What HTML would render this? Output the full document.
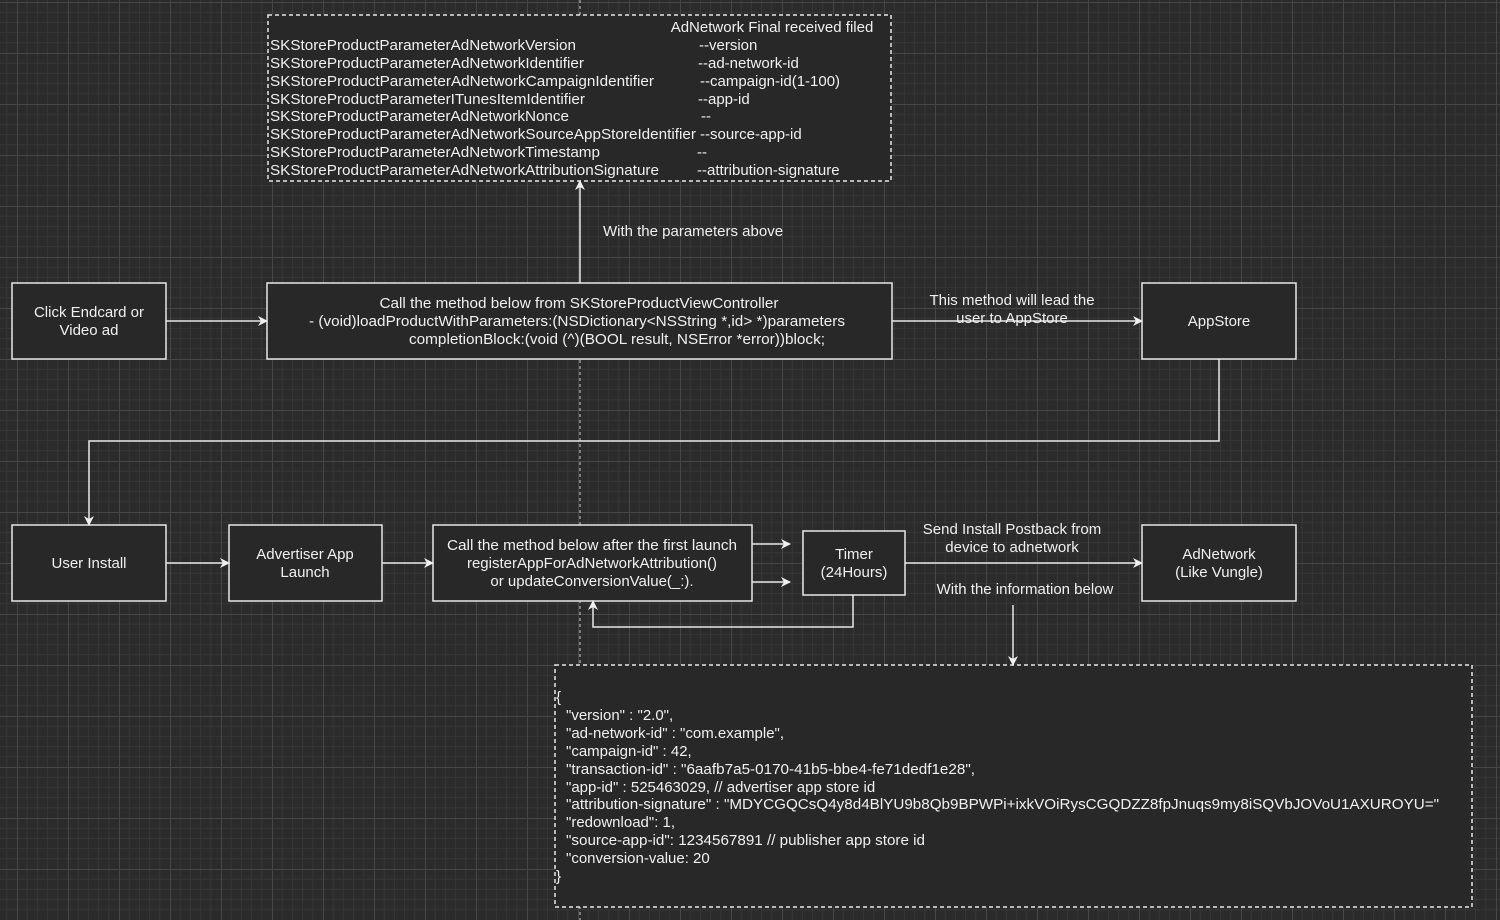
<!DOCTYPE html>
<html><head><meta charset="utf-8"><style>
html,body{margin:0;padding:0;background:#2b2b2b;}
svg{display:block;font-family:"Liberation Sans",Arial,sans-serif;}
text{fill:#f0f0f0;font-size:15px;}
</style></head><body>
<svg width="1500" height="920" viewBox="0 0 1500 920" xmlns="http://www.w3.org/2000/svg">
<defs>
<pattern id="g" x="17" y="2" width="51" height="51" patternUnits="userSpaceOnUse">
<rect width="51" height="51" fill="#2b2b2b"/>
<path d="M10.2 0V51M20.4 0V51M30.6 0V51M40.8 0V51M0 10.2H51M0 20.4H51M0 30.6H51M0 40.8H51" stroke="#363636" stroke-width="1"/>
<path d="M0.5 0V51M0 0.5H51" stroke="#474747" stroke-width="1"/>
</pattern>
<marker id="a" markerWidth="10" markerHeight="10" refX="9" refY="5" orient="auto" markerUnits="userSpaceOnUse">
<path d="M0 0L10 5L0 10L3 5Z" fill="#f0f0f0"/>
</marker>
</defs>
<rect width="1500" height="920" fill="url(#g)"/>
<line x1="580" y1="0" x2="580" y2="920" stroke="#cfcfcf" stroke-dasharray="3 3" stroke-width="1"/>
<g stroke="#e8e8e8" stroke-width="1.5" fill="#282828">
<rect x="268" y="15" width="623" height="166" stroke-dasharray="4 3"/>
<rect x="555" y="665" width="917" height="242" stroke-dasharray="4 3"/>
<rect x="12" y="283" width="154" height="76"/>
<rect x="267" y="283" width="625" height="76"/>
<rect x="1142" y="283" width="154" height="76"/>
<rect x="12" y="525" width="154" height="76"/>
<rect x="229" y="525" width="153" height="76"/>
<rect x="433" y="525" width="319" height="76"/>
<rect x="803" y="531" width="102" height="64"/>
<rect x="1142" y="525" width="154" height="76"/>
</g>
<g stroke="#e8e8e8" stroke-width="1.5" fill="none" marker-end="url(#a)">
<line x1="166" y1="321" x2="267" y2="321"/>
<line x1="580" y1="283" x2="580" y2="181"/>
<line x1="892" y1="321" x2="1142" y2="321"/>
<polyline points="1219,359 1219,441 89,441 89,525"/>
<line x1="166" y1="563" x2="229" y2="563"/>
<line x1="382" y1="563" x2="433" y2="563"/>
<line x1="752" y1="544" x2="790" y2="544"/>
<line x1="752" y1="582" x2="790" y2="582"/>
<polyline points="853,595 853,627 593,627 593,601"/>
<line x1="905" y1="563" x2="1142" y2="563"/>
<line x1="1013" y1="605" x2="1013" y2="665"/>
</g>
<g text-anchor="middle">
<text x="89" y="317">Click Endcard or</text>
<text x="89" y="335">Video ad</text>
<text x="579" y="308" textLength="399" lengthAdjust="spacingAndGlyphs">Call the method below from SKStoreProductViewController</text>
<text x="577" y="326" textLength="536" lengthAdjust="spacingAndGlyphs">- (void)loadProductWithParameters:(NSDictionary&lt;NSString *,id&gt; *)parameters</text>
<text x="617" y="344" textLength="416" lengthAdjust="spacingAndGlyphs">completionBlock:(void (^)(BOOL result, NSError *error))block;</text>
<text x="1219" y="326">AppStore</text>
<text x="1012" y="305">This method will lead the</text>
<text x="1012" y="323">user to AppStore</text>
<text x="693" y="236">With the parameters above</text>
<text x="89" y="568">User Install</text>
<text x="305" y="559">Advertiser App</text>
<text x="305" y="577">Launch</text>
<text x="592" y="550" textLength="290" lengthAdjust="spacingAndGlyphs">Call the method below after the first launch</text>
<text x="592" y="568">registerAppForAdNetworkAttribution()</text>
<text x="592" y="586">or updateConversionValue(_:).</text>
<text x="854" y="559">Timer</text>
<text x="854" y="577">(24Hours)</text>
<text x="1012" y="534">Send Install Postback from</text>
<text x="1012" y="552">device to adnetwork</text>
<text x="1025" y="594">With the information below</text>
<text x="1219" y="559">AdNetwork</text>
<text x="1219" y="577">(Like Vungle)</text>
<text x="772" y="32">AdNetwork Final received filed</text>
</g>
<g lengthAdjust="spacingAndGlyphs">
<text x="270" y="50" textLength="306" lengthAdjust="spacingAndGlyphs">SKStoreProductParameterAdNetworkVersion</text>
<text x="270" y="68" textLength="314" lengthAdjust="spacingAndGlyphs">SKStoreProductParameterAdNetworkIdentifier</text>
<text x="270" y="86" textLength="384" lengthAdjust="spacingAndGlyphs">SKStoreProductParameterAdNetworkCampaignIdentifier</text>
<text x="270" y="104" textLength="315" lengthAdjust="spacingAndGlyphs">SKStoreProductParameterITunesItemIdentifier</text>
<text x="270" y="121" textLength="299" lengthAdjust="spacingAndGlyphs">SKStoreProductParameterAdNetworkNonce</text>
<text x="270" y="139" textLength="426" lengthAdjust="spacingAndGlyphs">SKStoreProductParameterAdNetworkSourceAppStoreIdentifier</text>
<text x="270" y="157" textLength="330" lengthAdjust="spacingAndGlyphs">SKStoreProductParameterAdNetworkTimestamp</text>
<text x="270" y="175" textLength="389" lengthAdjust="spacingAndGlyphs">SKStoreProductParameterAdNetworkAttributionSignature</text>
<text x="699" y="50">--version</text>
<text x="698" y="68">--ad-network-id</text>
<text x="700" y="86">--campaign-id(1-100)</text>
<text x="698" y="104">--app-id</text>
<text x="701" y="121">--</text>
<text x="700" y="139">--source-app-id</text>
<text x="697" y="157">--</text>
<text x="697" y="175">--attribution-signature</text>
</g>
<g>
<text x="556" y="702">{</text>
<text x="566" y="720">"version" : "2.0",</text>
<text x="566" y="738">"ad-network-id" : "com.example",</text>
<text x="566" y="756">"campaign-id" : 42,</text>
<text x="566" y="774" textLength="409" lengthAdjust="spacingAndGlyphs">"transaction-id" : "6aafb7a5-0170-41b5-bbe4-fe71dedf1e28",</text>
<text x="566" y="792">"app-id" : 525463029, // advertiser app store id</text>
<text x="566" y="809" textLength="873" lengthAdjust="spacingAndGlyphs">"attribution-signature" : "MDYCGQCsQ4y8d4BlYU9b8Qb9BPWPi+ixkVOiRysCGQDZZ8fpJnuqs9my8iSQVbJOVoU1AXUROYU="</text>
<text x="566" y="827">"redownload": 1,</text>
<text x="566" y="845" textLength="359" lengthAdjust="spacingAndGlyphs">"source-app-id": 1234567891 // publisher app store id</text>
<text x="566" y="863">"conversion-value: 20</text>
<text x="556" y="881">}</text>
</g>
</svg>
</body></html>
